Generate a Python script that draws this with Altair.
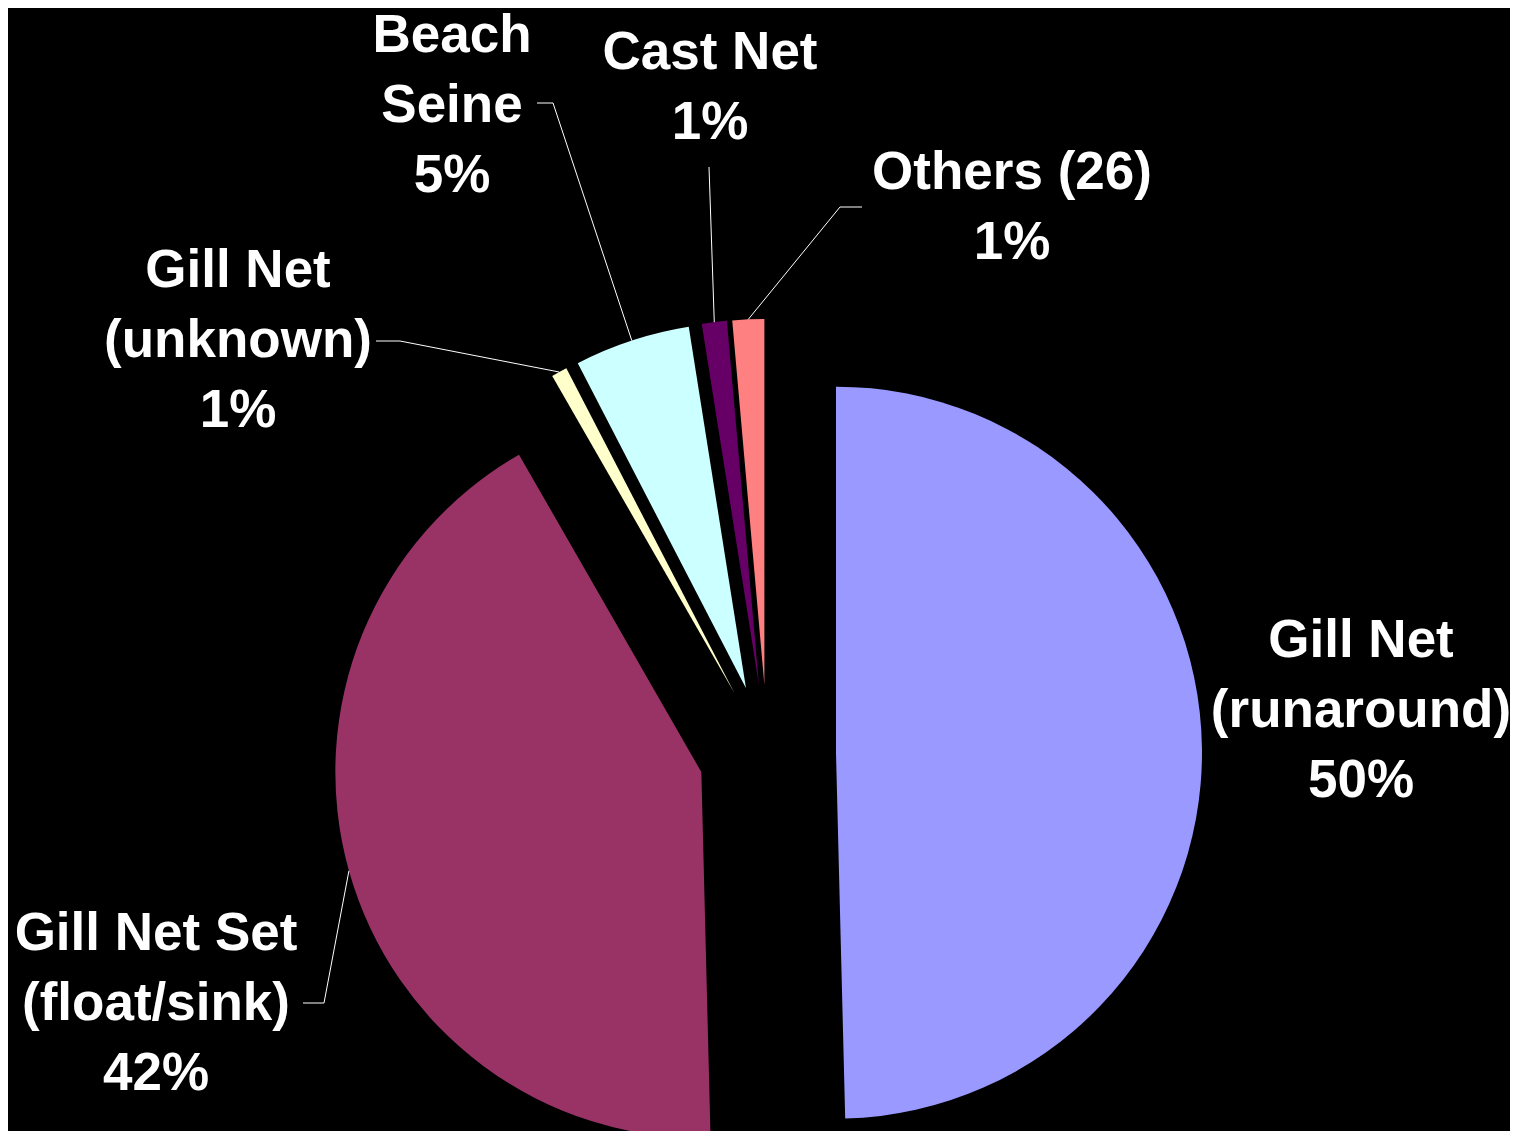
import math
import altair as alt
import pandas as pd

# ---- data ----
categories = ["Gill Net\n(runaround)", "Gill Net Set\n(float/sink)", "Gill Net\n(unknown)",
              "Beach\nSeine", "Cast Net", "Others (26)"]
shares = [49.6, 42.1, 0.7, 5.1, 1.1, 1.4]
colors = ["#9999FF", "#993366", "#FFFFCC", "#CCFFFF", "#660066", "#FF8080"]

# ---- layout (pixels, chart coordinates; y is the first text line) ----
W, H = 1502, 1123
CX, CY = 759.4, 745.5
R = 366
EXPLODE = 68.6
label_pos = [(1353, 633), (148, 926), (230, 263), (444, 28), (702, 45), (1004, 165)]
leader_elbow = [None, (316, 995), (392, 333), (545, 95), (701, 159), (832, 199)]
leader_end = [None, (295, 995), (368, 333), (529, 95), (701, 159), (854, 199)]

total = sum(shares)
slice_rows, leader_rows = [], []
cum = 0.0
for i, (c, v) in enumerate(zip(categories, shares)):
    a0, a1 = cum, cum + v
    cum = a1
    mid = (a0 + a1) / 2 / total * 2 * math.pi
    px = CX + EXPLODE * math.sin(mid)
    py = CY - EXPLODE * math.cos(mid)
    slice_rows.append(dict(cat=c, value=v, a0=a0, a1=a1, px=px, py=py,
                           lx=label_pos[i][0], ly=label_pos[i][1],
                           label=f"{c}\n{round(v / total * 100)}%"))
    if leader_elbow[i] is not None:
        ax = px + R * math.sin(mid)
        ay = py - R * math.cos(mid)
        pts = [(ax, ay), leader_elbow[i], leader_end[i]]
        for k, (x, y) in enumerate(pts):
            leader_rows.append(dict(cat=c, pt=k, x=x, y=y))

slices = pd.DataFrame(slice_rows)
leaders = pd.DataFrame(leader_rows)

theta_scale = alt.Scale(domain=[0, total], range=[0, 2 * math.pi])

arcs = alt.Chart(slices).mark_arc(outerRadius=R).encode(
    theta=alt.Theta("a0:Q", scale=theta_scale, stack=False),
    theta2="a1:Q",
    x=alt.X("px:Q", scale=None, axis=None),
    y=alt.Y("py:Q", scale=None, axis=None),
    color=alt.Color("cat:N", scale=alt.Scale(domain=categories, range=colors), legend=None),
)

lines = alt.Chart(leaders).mark_line(color="white", strokeWidth=1).encode(
    x=alt.X("x:Q", scale=None, axis=None),
    y=alt.Y("y:Q", scale=None, axis=None),
    detail="cat:N",
    order="pt:Q",
)

labels = alt.Chart(slices).mark_text(
    font="Liberation Sans", fontWeight="bold", fontSize=53, color="white",
    lineBreak="\n", lineHeight=70, align="center", baseline="middle",
).encode(
    x=alt.X("lx:Q", scale=None, axis=None),
    y=alt.Y("ly:Q", scale=None, axis=None),
    text="label:N",
)

chart = alt.layer(arcs, lines, labels).properties(
    width=W, height=H,
    autosize=alt.AutoSizeParams(type="none"),
    padding=0,
    background="black",
).configure_view(stroke=None)

chart.save("out.html", embed_options={"renderer": "svg", "actions": False})
